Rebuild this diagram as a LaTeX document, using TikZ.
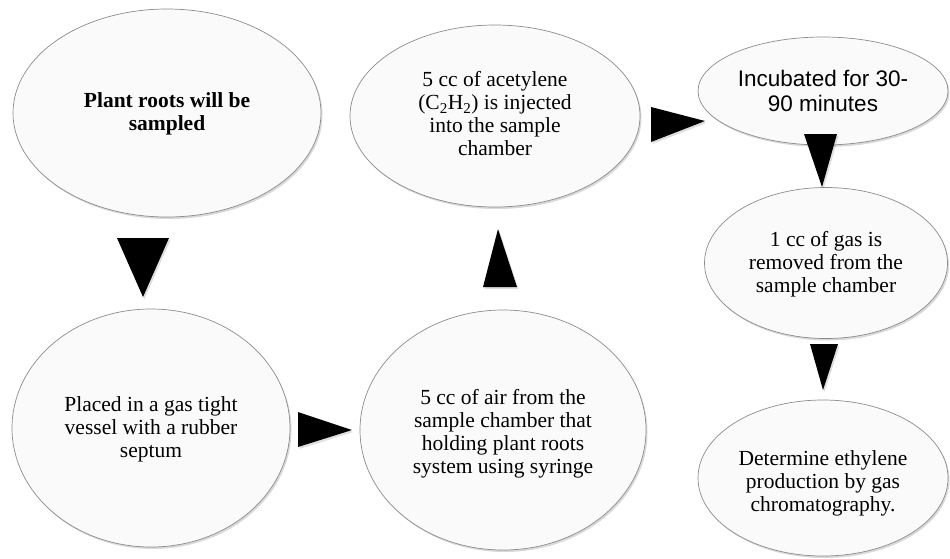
\documentclass[tikz,border=0pt]{standalone}
\usepackage{fontspec}
\setmainfont{Liberation Serif}
\newfontfamily\arialfont{Liberation Sans}
\usetikzlibrary{shapes.geometric,shadows}
\begin{document}
\begin{tikzpicture}[x=1pt,y=-1pt,
  bubble/.style={ellipse, draw=black!45, line width=0.7pt, fill=black!2, inner sep=0pt,
    drop shadow={opacity=0.3, shadow xshift=1.5pt, shadow yshift=-2pt}},
  txt/.style={align=center, inner sep=0pt, font=\fontsize{21.5}{23}\selectfont},
  tri/.style={fill=black, drop shadow={opacity=0.25, shadow xshift=1.5pt, shadow yshift=-2pt}}]
\useasboundingbox (0,0) rectangle (950,558);

\node[bubble, minimum width=308pt, minimum height=208pt] (roots) at (167,113) {};
\node[txt] (rootsT) at ([yshift=-1pt]roots.center) {\textbf{Plant roots will be}\\\textbf{sampled}};

\node[bubble, minimum width=290pt, minimum height=182pt] (acet) at (495,116) {};
\node[txt] (acetT) at ([yshift=2pt]acet.center)
  {5 cc of acetylene\\(C\textsubscript{2}H\textsubscript{2}) is injected\\into the sample\\chamber};

\node[bubble, minimum width=250pt, minimum height=108pt] (incub) at (823,91) {};
\node[txt, font=\arialfont\fontsize{22.5}{25}\selectfont] (incubT) at ([yshift=0pt]incub.center)
  {Incubated for 30-\\90 minutes};

\node[bubble, minimum width=243pt, minimum height=151pt] (gas) at (826,263) {};
\node[txt] (gasT) at ([yshift=-1pt]gas.center)
  {1 cc of gas is\\removed from the\\sample chamber};

\node[bubble, minimum width=250pt, minimum height=156pt] (ethyl) at (823,478) {};
\node[txt] (ethylT) at ([yshift=-5pt]ethyl.center)
  {Determine ethylene\\production by gas\\chromatography.};

\node[bubble, minimum width=278pt, minimum height=238pt] (vessel) at (151,428) {};
\node[txt] (vesselT) at ([yshift=-1pt]vessel.center)
  {Placed in a gas tight\\vessel with a rubber\\septum};

\node[bubble, minimum width=286pt, minimum height=240pt] (air) at (503,430) {};
\node[txt] (airT) at ([yshift=-4pt]air.center)
  {5 cc of air from the\\sample chamber that\\holding plant roots\\system using syringe};

\fill[tri] (117,238) -- (169,238) -- (143,297) -- cycle;
\fill[tri] (298,412) -- (298,447) -- (352,430) -- cycle;
\fill[tri] (483,287) -- (517,287) -- (498,229) -- cycle;
\fill[tri] (651,107) -- (651,142) -- (705,121) -- cycle;
\fill[tri] (804,134) -- (837,134) -- (822,187) -- cycle;
\fill[tri] (810,344) -- (838,344) -- (823,390) -- cycle;
\end{tikzpicture}
\end{document}
